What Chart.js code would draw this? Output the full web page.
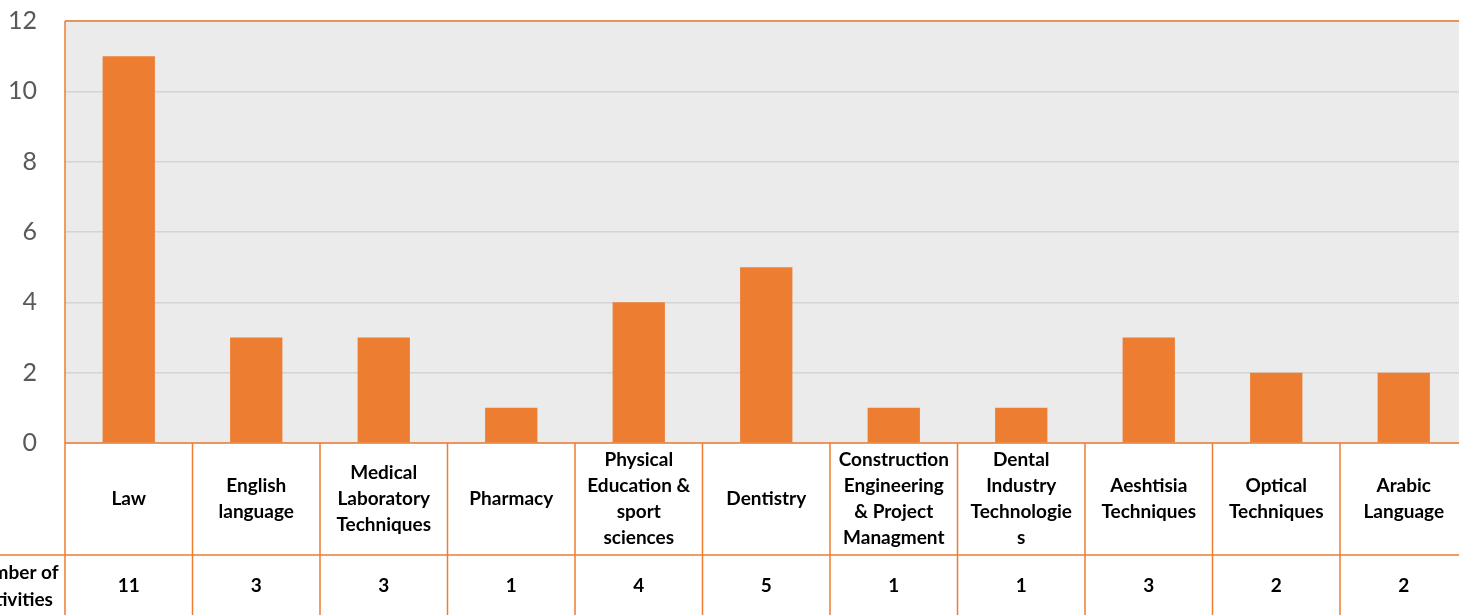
<!DOCTYPE html>
<html>
<head>
<meta charset="utf-8">
<script src="https://cdn.jsdelivr.net/npm/chart.js@4.4.1/dist/chart.umd.min.js"></script>
<style>
  html, body { margin: 0; padding: 0; background: #ffffff; overflow: hidden; }
  #wrap { width: 1470px; height: 615px; }
  canvas { display: block; }
</style>
</head>
<body>
<div id="wrap"><canvas id="chart" width="1470" height="615"></canvas></div>
<script>
const categories = [
    ["Law"],
    ["English", "language"],
    ["Medical", "Laboratory", "Techniques"],
    ["Pharmacy"],
    ["Physical", "Education &", "sport", "sciences"],
    ["Dentistry"],
    ["Construction", "Engineering", "& Project", "Managment"],
    ["Dental", "Industry", "Technologie", "s"],
    ["Aeshtisia", "Techniques"],
    ["Optical", "Techniques"],
    ["Arabic", "Language"]
];
const activityCounts = [11, 3, 3, 1, 4, 5, 1, 1, 3, 2, 2];
const seriesName = ["Number of", "Activities"];
const yTicks = [0, 2, 4, 6, 8, 10, 12];

const ORANGE = "#ED7D31";
const tableFont = "bold 19px Lato, 'Open Sans', sans-serif";

// grey plot background + orange frame on top
const plotFrame = {
    id: "plotFrame",
    beforeDraw(chart) {
        const { ctx, chartArea: a } = chart;
        ctx.save();
        ctx.fillStyle = "#EBEBEB";
        ctx.fillRect(a.left, a.top, a.right - a.left, a.bottom - a.top);
        ctx.restore();
    },
    afterDraw(chart) {
        const { ctx, chartArea: a } = chart;
        ctx.save();
        ctx.strokeStyle = ORANGE;
        ctx.lineWidth = 1.5;
        ctx.beginPath();
        ctx.moveTo(a.left, a.top);
        ctx.lineTo(a.right, a.top);
        ctx.moveTo(a.left, a.top);
        ctx.lineTo(a.left, a.bottom);
        ctx.stroke();
        ctx.restore();
    }
};

// data table under the plot, columns follow the x scale
const dataTable = {
    id: "dataTable",
    afterDraw(chart) {
        const { ctx, chartArea: a } = chart;
        const x = chart.scales.x;
        const headTop = a.bottom;
        const headBottom = a.bottom + 112;
        const rowBottom = chart.height;
        const half = (x.getPixelForValue(1) - x.getPixelForValue(0)) / 2;

        ctx.save();
        ctx.strokeStyle = ORANGE;
        ctx.lineWidth = 1.5;
        ctx.beginPath();
        ctx.moveTo(a.left, headTop);
        ctx.lineTo(a.right, headTop);
        ctx.moveTo(0, headBottom);
        ctx.lineTo(a.right, headBottom);
        ctx.moveTo(a.left, headTop);
        ctx.lineTo(a.left, rowBottom);
        categories.forEach((_, i) => {
            const edge = x.getPixelForValue(i) + half;
            ctx.moveTo(edge, headTop);
            ctx.lineTo(edge, rowBottom);
        });
        ctx.stroke();

        ctx.fillStyle = "#000000";
        ctx.font = tableFont;
        ctx.textAlign = "center";
        ctx.textBaseline = "middle";
        const lh = 26;
        const headMid = (headTop + headBottom) / 2;
        const rowMid = headBottom + 31;
        categories.forEach((lines, i) => {
            const cx = x.getPixelForValue(i);
            const y0 = headMid - (lines.length - 1) * lh / 2;
            lines.forEach((t, k) => ctx.fillText(t, cx, y0 + k * lh));
            ctx.fillText(String(activityCounts[i]), cx, rowMid);
        });
        // row header, mostly off the left edge as in the original crop
        seriesName.forEach((t, k) => ctx.fillText(t, 13, rowMid - 13.5 + k * 27));
        ctx.restore();
    }
};

const chart = new Chart(document.getElementById("chart"), {
    type: "bar",
    data: {
        labels: categories,
        datasets: [{
            label: seriesName.join(" "),
            data: activityCounts,
            backgroundColor: ORANGE,
            borderWidth: 0,
            categoryPercentage: 1,
            barPercentage: 0.41
        }]
    },
    options: {
        responsive: false,
        animation: false,
        layout: { padding: { top: 21, bottom: 172, left: 0, right: 2.5 } },
        plugins: { legend: { display: false }, tooltip: { enabled: false } },
        scales: {
            x: { display: false },
            y: {
                min: 0,
                max: 12,
                afterBuildTicks: s => { s.ticks = yTicks.map(v => ({ value: v })); },
                afterFit: s => { s.width = 65; s.paddingTop = 0; s.paddingBottom = 0; },
                border: { display: false },
                grid: { color: "#D4D4D4", lineWidth: 1.5, drawTicks: false },
                ticks: {
                    padding: 28,
                    color: "#595959",
                    font: { family: "Lato, 'Open Sans', sans-serif", size: 25 }
                }
            }
        }
    },
    plugins: [plotFrame, dataTable]
});
</script>
</body>
</html>
